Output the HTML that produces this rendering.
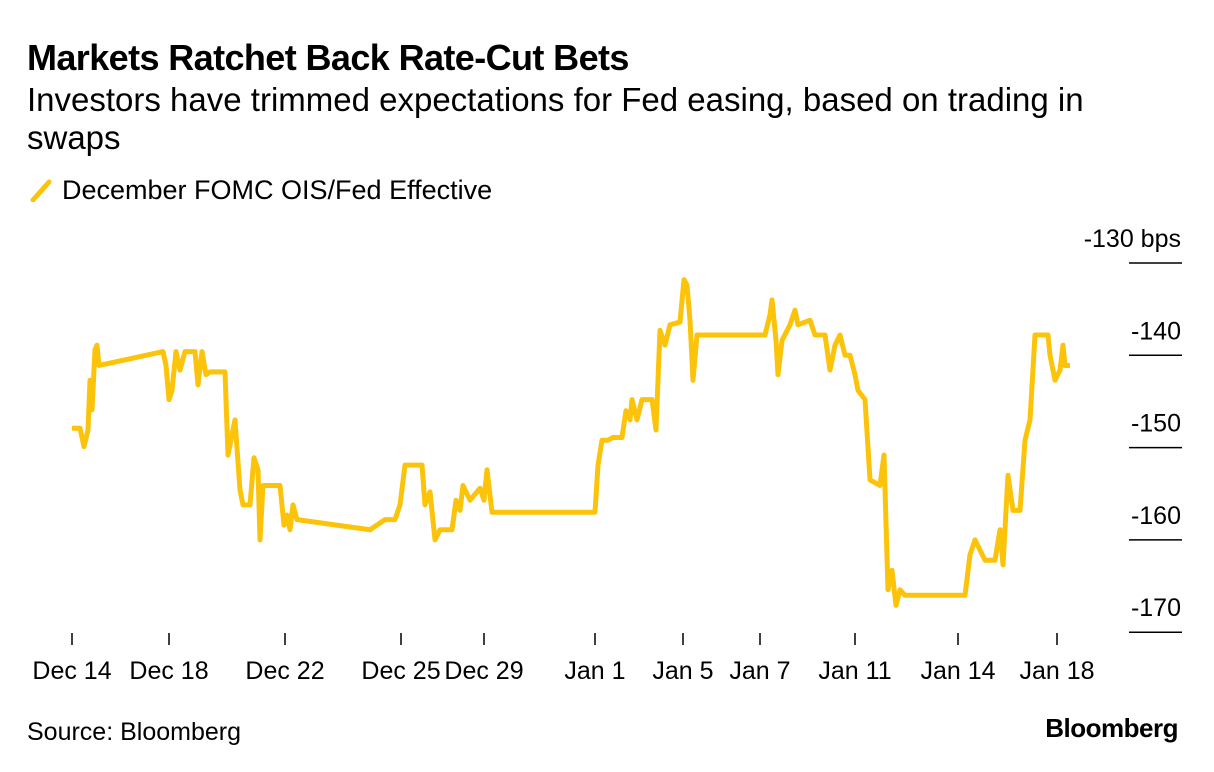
<!DOCTYPE html>
<html><head><meta charset="utf-8"><style>
body{margin:0;background:#fff;width:1214px;height:772px;overflow:hidden;font-family:"Liberation Sans",sans-serif;color:#000}
#t{position:absolute;left:27px;top:37px;font-size:36px;line-height:42px;font-weight:bold;letter-spacing:-0.6px}
#s{position:absolute;left:27px;top:81px;font-size:33px;line-height:38px;width:1110px}
#lg{position:absolute;left:30px;top:175px;font-size:27px}
#src{position:absolute;left:27px;top:718px;font-size:25px}
#brand{position:absolute;right:36px;top:713px;font-size:26px;font-weight:bold;letter-spacing:-0.5px}
svg{position:absolute;left:0;top:0}
</style></head><body>
<div id="t">Markets Ratchet Back Rate-Cut Bets</div>
<div id="s">Investors have trimmed expectations for Fed easing, based on trading in swaps</div>
<div id="lg"><svg width="24" height="24" style="position:relative;display:inline-block;vertical-align:-3px;margin-right:8px"><line x1="3" y1="22" x2="19" y2="4" stroke="#fcc30b" stroke-width="5" stroke-linecap="round"/></svg>December FOMC OIS/Fed Effective</div>
<div id="src">Source: Bloomberg</div>
<div id="brand">Bloomberg</div>
<svg id="c" width="1214" height="772"></svg>
<script>
const xs=[0,8,12,16,18,20,23,25,27,91,94,97,100,104,108,113,123,126,130,134,138,142,153,156,163,168,171,178,182,186,188,191,208,212,215,218,221,225,298,313,323,328,333,350,353,358,363,368,380,384,388,391,398,408,412,415,420,523,526,530,536,541,550,554,558,560,565,570,580,584,588,593,598,608,612,615,618,621,625,693,698,700,704,706,710,718,723,726,738,743,753,758,763,768,773,778,783,786,793,798,808,812,816,820,824,828,833,893,898,903,908,913,923,928,931,936,941,948,953,958,963,976,978,983,988,991,993,998];
const vals=[-147.9,-147.9,-149.9,-148.1,-142.7,-145.9,-139.4,-138.9,-141.1,-139.6,-141.1,-144.8,-143.8,-139.6,-141.6,-139.6,-139.6,-143.2,-139.6,-142.1,-141.8,-141.8,-141.8,-150.8,-147.0,-154.6,-156.2,-156.2,-151.1,-152.4,-160.0,-154.1,-154.1,-158.4,-157.3,-158.9,-156.2,-157.8,-158.9,-157.8,-157.8,-156.2,-151.9,-151.9,-156.2,-154.8,-160.0,-158.9,-158.9,-155.7,-156.8,-154.1,-155.7,-154.4,-155.7,-152.4,-157.0,-157.0,-151.9,-149.2,-149.2,-148.9,-148.9,-146.0,-147.0,-144.8,-147.0,-144.8,-144.8,-148.1,-137.3,-138.9,-136.7,-136.4,-131.8,-132.4,-136.2,-142.7,-137.8,-137.8,-135.6,-134.0,-138.4,-142.1,-138.4,-136.7,-135.1,-136.7,-136.2,-137.8,-137.8,-141.6,-138.9,-137.8,-140.0,-140.0,-142.1,-143.8,-144.8,-153.5,-154.1,-150.8,-165.4,-163.3,-167.1,-165.4,-166.0,-166.0,-161.6,-160.0,-161.1,-162.2,-162.2,-158.9,-162.7,-153.0,-156.8,-156.8,-149.2,-147.0,-137.8,-137.8,-140.0,-142.7,-141.6,-138.9,-141.1,-141.1];
const yTicks=[-130,-140,-150,-160,-170];
const yLabels=["-130 bps","-140","-150","-160","-170"];
const xTickPos=[0,97,213,329,412,523,611,688,783,886,985];
const xLabels=["Dec 14","Dec 18","Dec 22","Dec 25","Dec 29","Jan 1","Jan 5","Jan 7","Jan 11","Jan 14","Jan 18"];
const X=t=>72+t;
const Y=v=>263+(-130-v)*9.23;
const svg=document.getElementById('c');const NS='http://www.w3.org/2000/svg';
function mk(tag,at){const e=document.createElementNS(NS,tag);for(const k in at)e.setAttribute(k,at[k]);svg.appendChild(e);return e;}
yTicks.forEach((v,i)=>{
 const l=mk('line',{x1:1129,x2:1182,y1:Y(v),y2:Y(v),stroke:'#000','stroke-width':1.5});
 
 
 const t=mk('text',{x:1181,y:Y(v)-16,'text-anchor':'end','font-size':25,'font-family':'Liberation Sans, sans-serif'});
 t.textContent=yLabels[i];
 
 
});
xTickPos.forEach((p,i)=>{
 const l=mk('line',{x1:X(p),x2:X(p),y1:633,y2:645,stroke:'#000','stroke-width':1.5});
 
 
 const t=mk('text',{x:X(p),y:679,'text-anchor':'middle','font-size':25,'font-family':'Liberation Sans, sans-serif'});
 t.textContent=xLabels[i];
 
 
});
const pl=mk('polyline',{points:xs.map((x,i)=>X(x)+','+Y(vals[i])).join(' '),fill:'none',stroke:'#fcc30b','stroke-width':5,'stroke-linejoin':'round'});


</script>
</body></html>
